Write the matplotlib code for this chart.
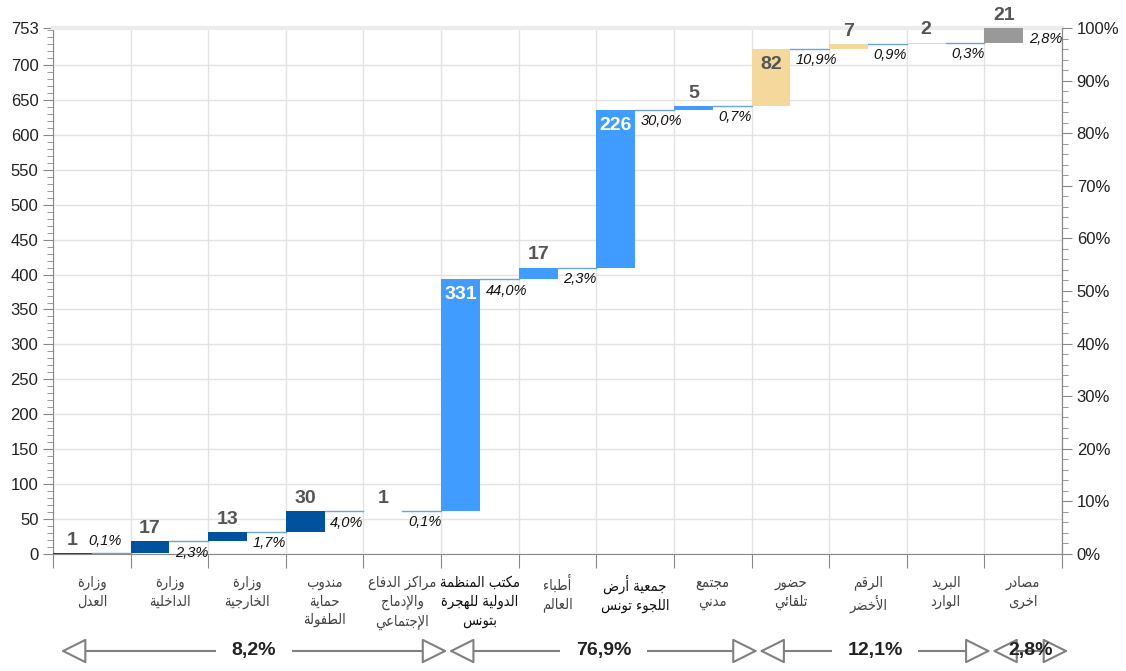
import numpy as np
import matplotlib
matplotlib.use('Agg')
import matplotlib.pyplot as plt
from matplotlib.patches import FancyArrowPatch
from matplotlib.ticker import MultipleLocator, FuncFormatter
import matplotlib.transforms as mtransforms
from matplotlib.colors import to_rgb

# البيانات
labels = ['وزارة\nالعدل', 'وزارة\nالداخلية', 'وزارة\nالخارجية',
          'مندوب\nحماية\nالطفولة', 'مراكز الدفاع\nوالإدماج\nالإجتماعي',
          'مكتب المنظمة\nالدولية للهجرة\nبتونس', 'أطباء\nالعالم',
          'جمعية أرض\nاللجوء تونس', 'مجتمع\nمدني', 'حضور\nتلقائي',
          'الرقم\nالأخضر', 'البريد\nالوارد', 'مصادر\nاخرى']
values = [1, 17, 13, 30, 1, 331, 17, 226, 5, 82, 7, 2, 21]
group_sizes = [5, 4, 3, 1]
bar_colors = ['#00519E'] * 4 + ['#4BAF9C'] + ['#409CFF'] * 4 + ['#F5D99C'] * 3 + ['#999999']
dark_labels = [5, 7]

# تشكيل الحروف العربية (matplotlib لا يقوم بالتشكيل)
FORMS = {
    'ء': (0xFE80, 1), 'آ': (0xFE81, 2), 'أ': (0xFE83, 2), 'ؤ': (0xFE85, 2),
    'إ': (0xFE87, 2), 'ئ': (0xFE89, 4), 'ا': (0xFE8D, 2), 'ب': (0xFE8F, 4),
    'ة': (0xFE93, 2), 'ت': (0xFE95, 4), 'ث': (0xFE99, 4), 'ج': (0xFE9D, 4),
    'ح': (0xFEA1, 4), 'خ': (0xFEA5, 4), 'د': (0xFEA9, 2), 'ذ': (0xFEAB, 2),
    'ر': (0xFEAD, 2), 'ز': (0xFEAF, 2), 'س': (0xFEB1, 4), 'ش': (0xFEB5, 4),
    'ص': (0xFEB9, 4), 'ض': (0xFEBD, 4), 'ط': (0xFEC1, 4), 'ظ': (0xFEC5, 4),
    'ع': (0xFEC9, 4), 'غ': (0xFECD, 4), 'ف': (0xFED1, 4), 'ق': (0xFED5, 4),
    'ك': (0xFED9, 4), 'ل': (0xFEDD, 4), 'م': (0xFEE1, 4), 'ن': (0xFEE5, 4),
    'ه': (0xFEE9, 4), 'و': (0xFEED, 2), 'ى': (0xFEEF, 2), 'ي': (0xFEF1, 4),
}
LAM_ALEF = {'آ': 0xFEF5, 'أ': 0xFEF7, 'إ': 0xFEF9, 'ا': 0xFEFB}


def shape_line(text):
    s = list(text)
    n = len(s)
    res = []
    i = 0
    while i < n:
        c = s[i]
        prev_joins = i > 0 and s[i - 1] in FORMS and FORMS[s[i - 1]][1] == 4
        if c == 'ل' and i + 1 < n and s[i + 1] in LAM_ALEF:
            res.append(chr(LAM_ALEF[s[i + 1]] + (1 if prev_joins else 0)))
            i += 2
            continue
        if c not in FORMS:
            res.append(c)
            i += 1
            continue
        base, k = FORMS[c]
        next_ok = k == 4 and i + 1 < n and s[i + 1] in FORMS and FORMS[s[i + 1]][1] > 1
        if k == 1:
            form = 0
        elif prev_joins and next_ok:
            form = 3
        elif prev_joins:
            form = 1
        elif next_ok:
            form = 2
        else:
            form = 0
        res.append(chr(base + form))
        i += 1
    return ''.join(reversed(res))


def shape(text):
    return '\n'.join(shape_line(l) for l in text.split('\n'))


def pct(v, total):
    return ('%.1f%%' % (100.0 * v / total)).replace('.', ',')


plt.rcParams['font.family'] = ['Liberation Sans', 'DejaVu Sans']

total = sum(values)
tops = np.cumsum(values)
bottoms = tops - np.array(values)
n = len(values)

fig = plt.figure(figsize=(11.26, 6.71), dpi=100)
ax = fig.add_axes([0.0471, 0.1744, 0.8961, 0.7839])

ax.bar(np.arange(n), values, width=0.5, bottom=bottoms, align='edge',
       color=bar_colors, linewidth=0, zorder=3)
# خطوط الربط
for i in range(n - 1):
    ax.plot([i + 0.5, i + 1], [tops[i], tops[i]], color='#6FA3DD', lw=1, zorder=2)

for i in range(n):
    if values[i] > 50:
        r, g, b = to_rgb(bar_colors[i])
        light = 0.3 * r + 0.59 * g + 0.11 * b > 0.7
        ax.annotate(str(values[i]), (i + 0.25, tops[i]), xytext=(0, -5),
                    textcoords='offset points', ha='center', va='top',
                    fontsize=14, fontweight='bold',
                    color='#555555' if light else 'white', zorder=5)
    else:
        ax.annotate(str(values[i]), (i + 0.25, tops[i]), xytext=(0, 3),
                    textcoords='offset points', ha='center', va='bottom',
                    fontsize=14, fontweight='bold', color='#555555', zorder=5)
    if tops[i] < 15:
        ax.annotate(pct(values[i], total), (i + 0.45, tops[i]), xytext=(0, 4),
                    textcoords='offset points', ha='left', va='bottom',
                    fontsize=10.5, fontstyle='italic', color='#111111', zorder=5)
    else:
        ax.annotate(pct(values[i], total), (i + 0.5, tops[i]), xytext=(4, -3),
                    textcoords='offset points', ha='left', va='top',
                    fontsize=10.5, fontstyle='italic', color='#111111', zorder=5)

ax.set_xlim(0, n)
ax.set_ylim(0, total)
ax.set_xticks(range(n + 1))
ax.set_xticklabels([])
ax.set_yticks(list(range(0, 701, 50)) + [total])
ax.yaxis.set_minor_locator(MultipleLocator(10))
ax.tick_params(axis='x', length=10, color='#888888')
ax.tick_params(axis='y', which='major', length=7, color='#888888', labelsize=12,
               labelcolor='#222222')
ax.tick_params(axis='y', which='minor', length=4, color='#888888')
ax.grid(True, color='#e3e3e3', lw=1)
ax.set_axisbelow(True)
for s in ['left', 'bottom', 'right']:
    ax.spines[s].set_color('#888888')
ax.spines['top'].set_color('#ececec')
ax.spines['top'].set_linewidth(3)

ax2 = ax.twinx()
ax2.set_ylim(0, 100)
ax2.yaxis.set_major_locator(MultipleLocator(10))
ax2.yaxis.set_minor_locator(MultipleLocator(2))
ax2.yaxis.set_major_formatter(FuncFormatter(lambda v, p: '%d%%' % v))
ax2.tick_params(axis='y', which='major', length=7, color='#888888', labelsize=12,
                labelcolor='#222222')
ax2.tick_params(axis='y', which='minor', length=4, color='#888888')
ax2.spines['right'].set_color('#888888')
ax2.spines['top'].set_visible(False)
ax2.spines['left'].set_visible(False)
ax2.spines['bottom'].set_visible(False)

# أسماء الفئات
for i, lab in enumerate(labels):
    ax.annotate(shape(lab), (i + 0.5, 0), xycoords=('data', 'axes fraction'),
                xytext=(0, -15), textcoords='offset points', ha='center', va='top',
                multialignment='center', fontsize=10.5, family='DejaVu Sans',
                fontstretch='condensed', linespacing=1.3,
                color='#111111' if i in dark_labels else '#444444')

# أسهم المجموعات
blend = mtransforms.blended_transform_factory(ax.transData, fig.transFigure)
y_arr = 1 - 651 / 671
start = 0
for g in group_sizes:
    end = start + g
    x0, x1 = start + 0.1, end + 0.08
    arr = FancyArrowPatch((x0, y_arr), (x1, y_arr), transform=blend,
                          arrowstyle='<|-|>', mutation_scale=40, shrinkA=0, shrinkB=0,
                          fc='white', ec='#808080', lw=1.5, clip_on=False, zorder=1)
    fig.add_artist(arr)
    gtxt = pct(sum(values[start:end]), total)
    bbox = dict(boxstyle='square,pad=0.8', fc='white', ec='none') if g > 1 else None
    fig.text((x0 + x1) / 2, y_arr, gtxt, transform=blend, ha='center',
             va='center', fontsize=14, fontweight='bold', color='#222222',
             bbox=bbox, zorder=3)
    start = end

fig.savefig('out.png', dpi=100)
